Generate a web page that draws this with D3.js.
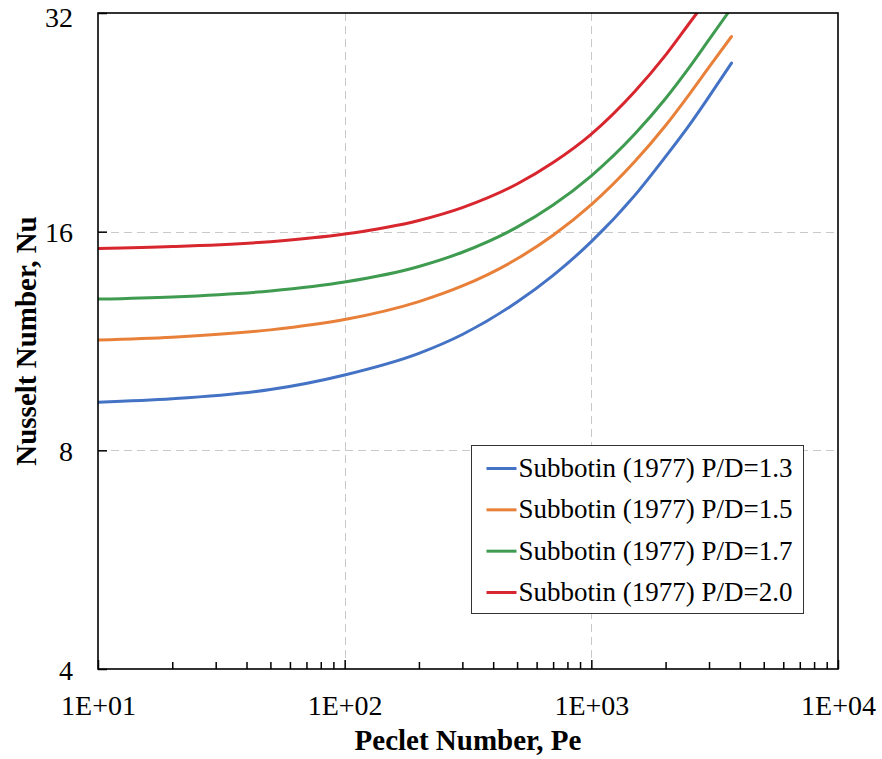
<!DOCTYPE html>
<html>
<head>
<meta charset="utf-8">
<script src="https://cdn.jsdelivr.net/npm/d3@7"></script>
<style>
  html, body { margin: 0; padding: 0; background: #fff; }
  svg { display: block; }
  text { font-family: "Liberation Serif", "Times New Roman", serif; fill: #000; }
</style>
</head>
<body>
<svg id="chart" width="882" height="759"></svg>
<script>
// Nusselt number vs Peclet number, Subbotin (1977) correlation for several pitch-to-diameter ratios
const peclet13 = [10, 20, 50, 100, 200, 300, 500, 700, 1000, 1500, 2000, 2500, 3000, 3700];
const nu13     = [9.32, 9.42, 9.70, 10.16, 10.88, 11.55, 12.80, 13.93, 15.50, 17.95, 20.30, 22.45, 24.55, 27.30];

const peclet15 = [10, 20, 50, 100, 200, 300, 500, 700, 1000, 1500, 2000, 2500, 3000, 3700];
const nu15     = [11.35, 11.45, 11.72, 12.11, 12.82, 13.47, 14.68, 15.82, 17.43, 19.98, 22.40, 24.75, 26.95, 29.70];

const peclet17 = [10, 20, 50, 100, 200, 300, 500, 700, 1000, 1500, 2000, 2500, 3000, 3580];
const nu17     = [12.92, 13.01, 13.26, 13.64, 14.33, 14.99, 16.23, 17.41, 19.10, 21.80, 24.40, 26.95, 29.40, 32.0];

const peclet20 = [10, 20, 50, 100, 200, 300, 500, 700, 1000, 1500, 2000, 2500, 2680];
const nu20     = [15.17, 15.26, 15.50, 15.88, 16.58, 17.27, 18.61, 19.92, 21.80, 24.95, 28.00, 31.00, 32.0];

const seriesNames  = ["Subbotin (1977) P/D=1.3", "Subbotin (1977) P/D=1.5",
                      "Subbotin (1977) P/D=1.7", "Subbotin (1977) P/D=2.0"];
const seriesColors = ["#4472C4", "#E8803A", "#3E9B4F", "#D7262E"];

const xTicks = [10, 100, 1000, 10000];
const xTickLabels = ["1E+01", "1E+02", "1E+03", "1E+04"];
const yTicks = [4, 8, 16, 32];
const yTickLabels = ["4", "8", "16", "32"];

const xTitle = "Peclet Number, Pe";
const yTitle = "Nusselt Number, Nu";

// ---- layout ----
const plot = { left: 98, top: 13, right: 838, bottom: 669 };

const svg = d3.select("#chart");

const x = d3.scaleLog().domain([10, 10000]).range([plot.left, plot.right]);
const y = d3.scaleLog().base(2).domain([4, 32]).range([plot.bottom, plot.top]);

// ---- gridlines ----
const grid = svg.append("g")
  .attr("stroke", "#c9c9c9")
  .attr("stroke-width", 1)
  .attr("stroke-dasharray", "8,5");

grid.selectAll("line.gx")
  .data(xTicks.slice(1, -1))
  .join("line")
  .attr("x1", d => Math.round(x(d)) + 0.5).attr("x2", d => Math.round(x(d)) + 0.5)
  .attr("y1", plot.top).attr("y2", plot.bottom);

grid.selectAll("line.gy")
  .data(yTicks.slice(1, -1))
  .join("line")
  .attr("y1", d => Math.round(y(d)) + 0.5).attr("y2", d => Math.round(y(d)) + 0.5)
  .attr("x1", plot.left).attr("x2", plot.right);

// ---- curves ----
svg.append("clipPath").attr("id", "plotClip")
  .append("rect")
  .attr("x", plot.left).attr("y", plot.top)
  .attr("width", plot.right - plot.left).attr("height", plot.bottom - plot.top);

const series = [
  { pe: peclet13, nu: nu13 },
  { pe: peclet15, nu: nu15 },
  { pe: peclet17, nu: nu17 },
  { pe: peclet20, nu: nu20 }
];

const line = d3.line()
  .x(d => x(d[0]))
  .y(d => y(d[1]))
  .curve(d3.curveMonotoneX);

svg.append("g").attr("clip-path", "url(#plotClip)")
  .selectAll("path")
  .data(series)
  .join("path")
  .attr("d", s => line(d3.zip(s.pe, s.nu)))
  .attr("fill", "none")
  .attr("stroke", (s, i) => seriesColors[i])
  .attr("stroke-width", 3)
  .attr("stroke-linecap", "round")
  .attr("stroke-linejoin", "round");

// ---- frame ----
svg.append("rect")
  .attr("x", plot.left).attr("y", plot.top)
  .attr("width", plot.right - plot.left).attr("height", plot.bottom - plot.top)
  .attr("fill", "none").attr("stroke", "#000").attr("stroke-width", 1.6);

// ---- x axis: major and minor ticks pointing inward ----
const minorX = [];
for (let dec = 10; dec < 10000; dec *= 10) {
  for (let m = 2; m <= 9; m++) minorX.push(dec * m);
}
const xAxisMajor = d3.axisBottom(x).tickValues(xTicks)
  .tickSize(-9).tickFormat((d, i) => xTickLabels[i]).tickPadding(26);
const xAxisMinor = d3.axisBottom(x).tickValues(minorX).tickSize(-7).tickFormat("");

const gxMinor = svg.append("g").attr("transform", `translate(0,${plot.bottom})`).call(xAxisMinor);
const gxMajor = svg.append("g").attr("transform", `translate(0,${plot.bottom})`).call(xAxisMajor);
[gxMinor, gxMajor].forEach(g => {
  g.select(".domain").remove();
  g.selectAll(".tick line").attr("stroke", "#000").attr("stroke-width", 1.5);
});
gxMajor.selectAll(".tick text")
  .attr("font-family", "Liberation Serif, Times New Roman, serif")
  .attr("font-size", 28)
  .attr("fill", "#000")
  .attr("dy", "0.71em");

// ---- y axis ----
const yAxis = d3.axisLeft(y).tickValues(yTicks)
  .tickSize(-9).tickFormat((d, i) => yTickLabels[i]).tickPadding(25);
const gy = svg.append("g").attr("transform", `translate(${plot.left},0)`).call(yAxis);
gy.select(".domain").remove();
gy.selectAll(".tick line").attr("stroke", "#000").attr("stroke-width", 1.5);
// labels sit just below their tick; the top one is kept inside the page
gy.selectAll(".tick text")
  .attr("font-family", "Liberation Serif, Times New Roman, serif")
  .attr("font-size", 28)
  .attr("fill", "#000")
  .attr("dy", null)
  .attr("y", d => Math.max(10, 26 - y(d)));

// ---- axis titles ----
svg.append("text")
  .attr("x", (plot.left + plot.right) / 2)
  .attr("y", 750)
  .attr("text-anchor", "middle")
  .attr("font-size", 29)
  .attr("font-weight", "bold")
  .text(xTitle);

svg.append("text")
  .attr("transform", `translate(36,${(plot.top + plot.bottom) / 2}) rotate(-90)`)
  .attr("text-anchor", "middle")
  .attr("font-size", 29)
  .attr("font-weight", "bold")
  .text(yTitle);

// ---- legend ----
const legend = svg.append("g").attr("transform", "translate(471.5,445.5)");
legend.append("rect")
  .attr("width", 332).attr("height", 168)
  .attr("fill", "#fff").attr("stroke", "#333").attr("stroke-width", 1);

const rowY = d3.scalePoint().domain(d3.range(seriesNames.length)).range([23, 147]);
const rows = legend.selectAll("g.row")
  .data(seriesNames)
  .join("g")
  .attr("transform", (d, i) => `translate(0,${rowY(i)})`);
rows.append("line")
  .attr("x1", 15).attr("x2", 45)
  .attr("stroke", (d, i) => seriesColors[i])
  .attr("stroke-width", 3);
rows.append("text")
  .attr("x", 47).attr("y", 8.5)
  .attr("font-size", 27)
  .text(d => d);
</script>
</body>
</html>
